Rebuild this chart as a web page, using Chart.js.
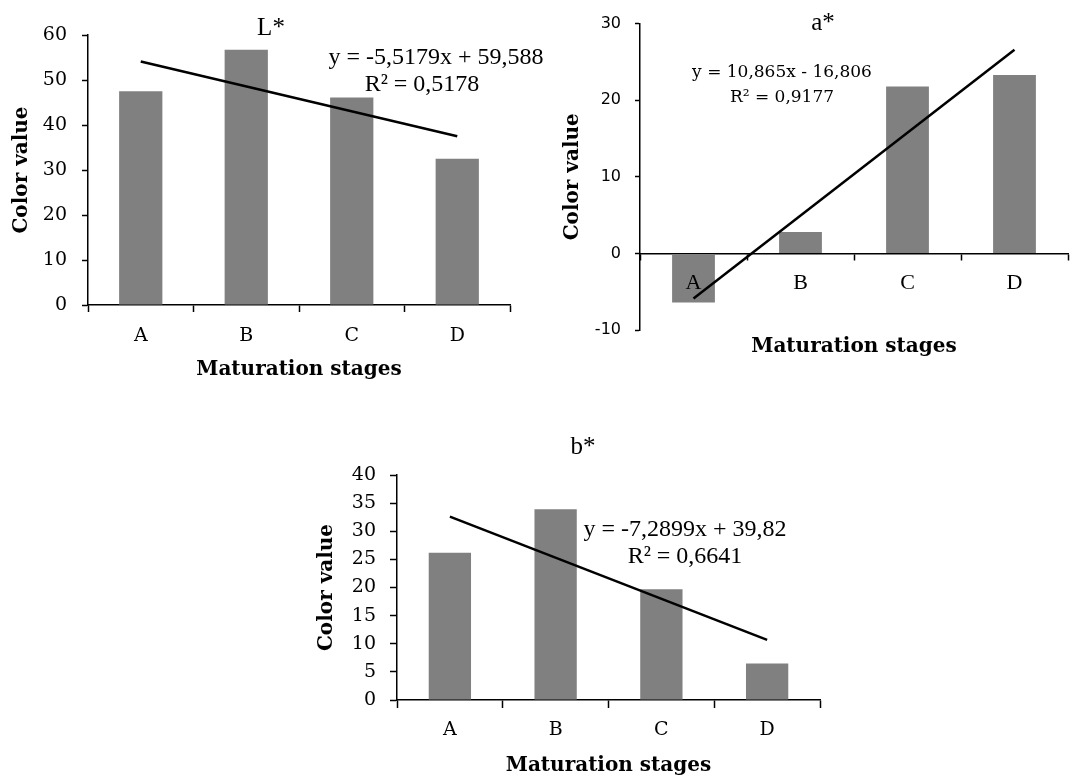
<!DOCTYPE html>
<html>
<head>
<meta charset="utf-8">
<script src="https://cdn.jsdelivr.net/npm/chart.js@4"></script>
<style>
  body { margin: 0; width: 1072px; height: 776px; background: #fff; position: relative; overflow: hidden; }
  .box { position: absolute; }
  .lbl { position: absolute; transform: translate(-50%, -50%); white-space: nowrap; color: #000; font-family: "Liberation Serif", serif; }
</style>
</head>
<body>
<div class="box" style="left:0;top:0"><canvas id="chartL" width="540" height="390"></canvas></div>
<div class="box" style="left:540px;top:0"><canvas id="chartA" width="532" height="390"></canvas></div>
<div class="box" style="left:300px;top:380px"><canvas id="chartB" width="530" height="396"></canvas></div>

<div class="lbl" style="left:271px;top:27px;font-size:25px">L*</div>
<div class="lbl" id="eqL1" style="left:436px;top:56px;font-size:24px"></div>
<div class="lbl" id="eqL2" style="left:422px;top:83px;font-size:24px"></div>
<div class="lbl" style="left:823px;top:22px;font-size:25px">a*</div>
<div class="lbl" id="eqA1" style="left:782px;top:71px;font-size:17px;font-family:'DejaVu Serif',serif"></div>
<div class="lbl" id="eqA2" style="left:782px;top:96px;font-size:17px;font-family:'DejaVu Serif',serif"></div>
<div class="lbl" style="left:583px;top:446px;font-size:25px">b*</div>
<div class="lbl" id="eqB1" style="left:685px;top:528px;font-size:24px"></div>
<div class="lbl" id="eqB2" style="left:685px;top:555px;font-size:24px"></div>

<script>
"use strict";

// Values
const stages = ['A', 'B', 'C', 'D'];

const lValues = [47.5, 56.7, 46.1, 32.5];
const aValues = [-6.4, 2.8, 21.8, 23.3];
const bValues = [26.2, 33.9, 19.7, 6.5];

// trend line end points (at A and D)
const lTrend = [54.1, null, null, 37.5];
const aTrend = [-5.9, null, null, 26.6];
const bTrend = [32.6, null, null, 10.7];

// y axis ranges: min, max, step
const lAxis = [0, 60, 10];
const aAxis = [-10, 30, 10];
const bAxis = [0, 40, 5];

const lEquation = ['y = -5,5179x + 59,588', 'R² = 0,5178'];
const aEquation = ['y = 10,865x - 16,806', 'R² = 0,9177'];
const bEquation = ['y = -7,2899x + 39,82', 'R² = 0,6641'];

document.getElementById('eqL1').textContent = lEquation[0];
document.getElementById('eqL2').textContent = lEquation[1];
document.getElementById('eqA1').textContent = aEquation[0];
document.getElementById('eqA2').textContent = aEquation[1];
document.getElementById('eqB1').textContent = bEquation[0];
document.getElementById('eqB2').textContent = bEquation[1];

const serif = "'DejaVu Serif', serif";
const titleFont = { family: serif, size: 20, weight: 'bold', lineHeight: 1 };

function datasets(values, trend, bar) {
  return [
    {
      type: 'line',
      data: trend,
      spanGaps: true,
      borderColor: '#000',
      borderWidth: 2.5,
      pointRadius: 0,
      order: 0
    },
    {
      type: 'bar',
      data: values,
      backgroundColor: '#808080',
      borderWidth: 0,
      categoryPercentage: 1,
      barPercentage: bar,
      order: 1
    }
  ];
}

function yScale(range, width, cfg) {
  return {
    min: range[0],
    max: range[1],
    afterFit: function(scale) { scale.width = width; },
    ticks: { stepSize: range[2], color: '#000', padding: cfg.padding, font: cfg.font },
    grid: { drawOnChartArea: false, drawTicks: true, tickLength: cfg.tick, color: '#000', tickWidth: 1.5 },
    border: { display: true, color: '#000', width: 1.5 },
    title: { display: true, text: 'Color value', color: '#000', font: titleFont, padding: { top: cfg.titleGap, bottom: 0 } }
  };
}

function xScale(height, cfg) {
  return {
    afterFit: function(scale) { scale.height = height; },
    ticks: { color: '#000', padding: cfg.padding, font: cfg.font },
    grid: { offset: true, drawOnChartArea: false, drawTicks: true, tickLength: cfg.tick, color: '#000', tickWidth: 1.5 },
    border: { display: true, color: '#000', width: 1.5 },
    title: { display: true, text: 'Maturation stages', color: '#000', font: titleFont, padding: { top: 0, bottom: cfg.titleGap } }
  };
}

const common = {
  responsive: false,
  animation: false,
  plugins: { legend: { display: false }, tooltip: { enabled: false } }
};

const tickSerif = { family: serif, size: 19 };

// L*
new Chart(document.getElementById('chartL'), {
  data: { labels: stages, datasets: datasets(lValues, lTrend, 0.41) },
  options: Object.assign({}, common, {
    layout: { padding: { left: 0, top: 35, right: 30, bottom: 0 } },
    scales: {
      x: xScale(85, { padding: 13, tick: 7, titleGap: 10, font: tickSerif }),
      y: yScale(lAxis, 88, { padding: 15, tick: 6, titleGap: 12, font: tickSerif })
    }
  })
});

// a*  (category axis crosses at zero, labels drawn over the bars)
const aX = xScale(0, { padding: 11, tick: 6, titleGap: 0, font: { family: "'Liberation Serif', serif", size: 22 } });
aX.position = { y: 0 };
aX.ticks.z = 1;
aX.title = { display: false };
delete aX.afterFit;

new Chart(document.getElementById('chartA'), {
  data: { labels: stages, datasets: datasets(aValues, aTrend, 0.40) },
  options: Object.assign({}, common, {
    layout: { padding: { left: 0, top: 16, right: 4, bottom: 0 } },
    scales: {
      x: aX,
      x2: {
        position: 'bottom',
        afterFit: function(scale) { scale.height = 60; },
        ticks: { display: false },
        grid: { display: false },
        border: { display: false },
        title: { display: true, text: 'Maturation stages', color: '#000', font: titleFont, padding: { top: 0, bottom: 33 } }
      },
      y: yScale(aAxis, 100, { padding: 14, tick: 5, titleGap: 23, font: { family: "'DejaVu Sans', sans-serif", size: 16 } })
    }
  })
});

// b*
new Chart(document.getElementById('chartB'), {
  data: { labels: stages, datasets: datasets(bValues, bTrend, 0.40) },
  options: Object.assign({}, common, {
    layout: { padding: { left: 0, top: 95, right: 10, bottom: 0 } },
    scales: {
      x: xScale(76, { padding: 11, tick: 8, titleGap: 0, font: tickSerif }),
      y: yScale(bAxis, 97, { padding: 14, tick: 7, titleGap: 17, font: tickSerif })
    }
  })
});
</script>
</body>
</html>
